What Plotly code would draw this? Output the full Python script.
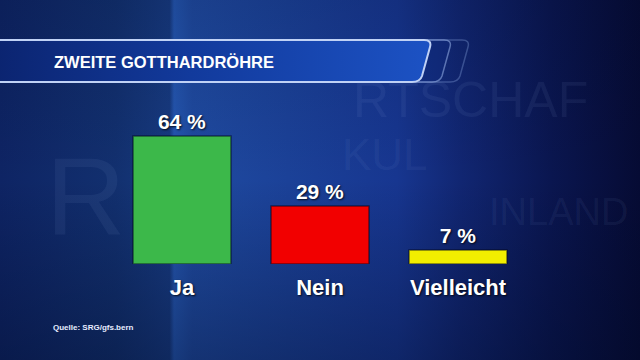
import base64
import plotly.graph_objects as go

# ---- data ----
categories = ["Ja", "Nein", "Vielleicht"]
values = [64, 29, 7]
value_labels = ["64 %", "29 %", "7 %"]
bar_colors = ["#3cb84a", "#f20000", "#f2ee00"]
title_text = "ZWEITE GOTTHARDRÖHRE"
source_text = "Quelle: SRG/gfs.bern"

W, H = 640, 360

# ---- decorative background as SVG ----
svg = f"""<svg xmlns='http://www.w3.org/2000/svg' width='{W}' height='{H}' viewBox='0 0 {W} {H}'>
<defs>
<linearGradient id='bg' x1='0' y1='0' x2='1' y2='0'>
<stop offset='0' stop-color='#0e2464'/>
<stop offset='0.18' stop-color='#12306f'/>
<stop offset='0.265' stop-color='#173a80'/>
<stop offset='0.272' stop-color='#2456b0'/>
<stop offset='0.30' stop-color='#1f4aa0'/>
<stop offset='0.45' stop-color='#1b4198'/>
<stop offset='0.62' stop-color='#173690'/>
<stop offset='0.72' stop-color='#112672'/>
<stop offset='0.86' stop-color='#0a1650'/>
<stop offset='1' stop-color='#060b34'/>
</linearGradient>
<linearGradient id='vshade' x1='0' y1='0' x2='0' y2='1'>
<stop offset='0' stop-color='#000820' stop-opacity='0.15'/>
<stop offset='0.5' stop-color='#000820' stop-opacity='0'/>
<stop offset='1' stop-color='#000820' stop-opacity='0.35'/>
</linearGradient>
<linearGradient id='banner' x1='0' y1='0' x2='1' y2='0'>
<stop offset='0' stop-color='#0b2470'/>
<stop offset='0.45' stop-color='#123a9c'/>
<stop offset='1' stop-color='#1c52c4'/>
</linearGradient>
</defs>
<rect x='0' y='0' width='{W}' height='{H}' fill='url(#bg)'/>
<rect x='0' y='0' width='{W}' height='{H}' fill='url(#vshade)'/>
<path d='M -5 40 L 462 40 Q 470 40 468 47 L 460 76 Q 458 82 450 82 L -5 82 Z' fill='none' stroke='#8aa6e0' stroke-opacity='0.35' stroke-width='1.5'/>
<path d='M -5 40 L 444 40 Q 452 40 450 47 L 442 76 Q 440 82 432 82 L -5 82 Z' fill='#0f2c80' fill-opacity='0.35' stroke='#9ab4ea' stroke-opacity='0.55' stroke-width='1.5'/>
<path d='M -5 40 L 424 40 Q 432 40 430 47 L 422 76 Q 420 82 412 82 L -5 82 Z' fill='url(#banner)' stroke='#c0d2f6' stroke-width='2'/>
</svg>"""
svg_uri = "data:image/svg+xml;base64," + base64.b64encode(svg.encode("utf-8")).decode("ascii")

FONT = "Liberation Sans"

fig = go.Figure(
    go.Bar(
        x=categories,
        y=values,
        marker=dict(color=bar_colors, line=dict(color="rgba(0,5,30,0.55)", width=1.5)),
        width=0.71,
        text=value_labels,
        textposition="outside",
        textfont=dict(family=FONT, size=21, color="white", weight="bold",
                      shadow="1px 1px 2px rgba(0,0,0,0.8)"),
        cliponaxis=False,
        hoverinfo="skip",
    )
)

watermarks = [
    ("RTSCHAF", 470, 100, 50),
    ("KUL", 385, 154, 44),
    ("INLAND", 558, 212, 38),
    ("R", 85, 195, 110),
]
annotations = [
    dict(text=t, x=x / W, y=1 - y / H, xref="paper", yref="paper", showarrow=False,
         font=dict(family=FONT, size=s, color="rgba(150,175,230,0.08)"),
         xanchor="center", yanchor="middle")
    for t, x, y, s in watermarks
]
annotations += [
    dict(text=title_text, x=52 / W, y=1 - 61.5 / H, xref="paper", yref="paper",
         showarrow=False, xanchor="left", yanchor="middle",
         font=dict(family=FONT, size=16.5, color="white", weight="bold")),
    dict(text=source_text, x=51 / W, y=1 - 327 / H, xref="paper", yref="paper",
         showarrow=False, xanchor="left", yanchor="middle",
         font=dict(family=FONT, size=8, color="#e6ecff", weight="bold")),
]

fig.update_layout(
    width=W, height=H,
    margin=dict(l=0, r=0, t=0, b=0),
    paper_bgcolor="#0e2464",
    plot_bgcolor="rgba(0,0,0,0)",
    showlegend=False,
    images=[dict(source=svg_uri, xref="paper", yref="paper", x=0, y=1,
                 sizex=1, sizey=1, xanchor="left", yanchor="top",
                 sizing="stretch", layer="below")],
    annotations=annotations,
    xaxis=dict(domain=[113 / W, 527 / W], range=[-0.5, 2.5], showgrid=False,
               zeroline=False, showline=False, ticks="", ticklabelstandoff=8,
               tickfont=dict(family=FONT, size=22, color="white", weight="bold",
                             shadow="1px 1px 2px rgba(0,0,0,0.8)"),
               fixedrange=True),
    yaxis=dict(domain=[96 / H, 296 / H], range=[0, 100], showgrid=False,
               zeroline=False, showline=False, showticklabels=False, fixedrange=True),
)

fig.write_html("out.html", config={"displayModeBar": False})
